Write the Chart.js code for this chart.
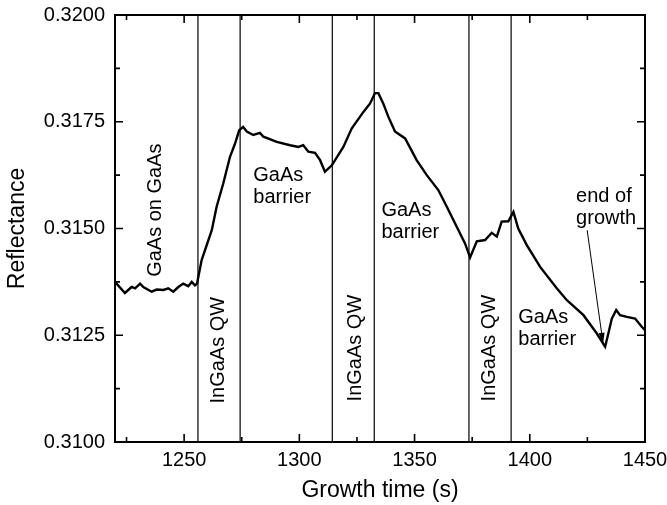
<!DOCTYPE html>
<html>
<head>
<meta charset="utf-8">
<script src="https://cdn.jsdelivr.net/npm/chart.js@4/dist/chart.umd.min.js"></script>
<style>
html,body{margin:0;padding:0;background:#fff;}
#c{display:block;}
</style>
</head>
<body>
<canvas id="c" width="667" height="505"></canvas>
<script>
// ---- data ----
const times = [1220,1224.3,1227.2,1228.7,1230.9,1232.3,1235.9,1238.1,1241.0,1243.1,1245.3,1247.5,1249.6,1251.8,1253.3,1254.7,1255.6,
  1257.6,1262.0,1264.1,1267.0,1269.9,1272.1,1273.9,1275.6,1277.2,1280.0,1282.9,1284.4,1290.2,1296.0,1299.6,1301.7,1303.9,1306.8,1309.0,1311.1,
  1314.1,1319.1,1322.7,1327.8,1330.7,1332.8,1334.3,1336.4,1338.6,1341.5,1345.9,1350.9,1355.3,1360.3,1364.0,1368.3,1371.9,1374.1,
  1377.0,1380.6,1383.5,1385.7,1387.8,1390.7,1392.9,1395.0,1398.7,1404.5,1411.7,1416.1,1423.3,1429.1,1432.7,1434.1,1435.6,1437.5,1439.2,1442.1,1445.7,1448.6,1450];
const reflectance = [0.31375,0.31349,0.31363,0.31360,0.31371,0.31363,0.31352,0.31357,0.31356,0.31360,0.31352,0.31363,0.31371,0.31365,0.31375,0.31367,0.31371,
  0.31426,0.31496,0.31551,0.31606,0.31668,0.31699,0.31730,0.31738,0.31727,0.31719,0.31724,0.31715,0.31703,0.31695,0.31691,0.31695,0.31680,0.31677,0.31660,0.31633,
  0.31648,0.31691,0.31734,0.31773,0.31793,0.31817,0.31817,0.31793,0.31762,0.31727,0.31711,0.31660,0.31625,0.31590,0.31551,0.31504,0.31465,0.31432,
  0.31470,0.31473,0.31490,0.31481,0.31516,0.31517,0.31539,0.31500,0.31461,0.31410,0.31360,0.31332,0.31297,0.31254,0.31223,0.31254,0.31289,0.31309,0.31297,0.31293,0.31289,0.31270,0.31262];
const boundaries = [1256, 1274.3, 1314.3, 1332.5, 1373.6, 1391.9];
const xTicks = [1250, 1300, 1350, 1400, 1450];
const xMinorTicks = [1225, 1275, 1325, 1375, 1425];
const yTicks = [0.3100, 0.3125, 0.3150, 0.3175, 0.3200];
const yMinorTicks = [0.31125, 0.31375, 0.31625, 0.31875];
const X_MIN = 1220, X_MAX = 1450, Y_MIN = 0.3100, Y_MAX = 0.3200;
const xTitle = 'Growth time (s)';
const yTitle = 'Reflectance';
const labelTexts = ['GaAs on GaAs', 'InGaAs QW', 'InGaAs QW', 'InGaAs QW', ['GaAs','barrier'], ['GaAs','barrier'], ['GaAs','barrier'], ['end of','growth']];
const arrowFrom = [1424.9, 0.31496];
const arrowTo = [1431.8, 0.31231];

const FONT = '"Liberation Sans", Arial, Helvetica, sans-serif';

// label anchors in data coordinates (rotated: centre; others: left / first baseline)
const labelLayout = [
  {t:1237.4, v:0.31543, rot:true},
  {t:1265.1, v:0.31215, rot:true},
  {t:1324.2, v:0.31220, rot:true},
  {t:1382.3, v:0.31220, rot:true},
  {t:1280.0, v:0.31611, rot:false},
  {t:1335.6, v:0.31529, rot:false},
  {t:1395.0, v:0.31278, rot:false},
  {t:1420.1, v:0.31561, rot:false}
];

const datasets = [{
  data: times.map((t,i)=>({x:t, y:reflectance[i]})),
  borderColor:'#000', borderWidth:2.4, pointRadius:0, tension:0, fill:false, order:0
}];
boundaries.forEach(b=>{
  datasets.push({data:[{x:b,y:Y_MIN},{x:b,y:Y_MAX}], borderColor:'#000', borderWidth:1.2, pointRadius:0, fill:false, order:1});
});

const decor = {
  id:'decor',
  afterDatasetsDraw(chart){
    const ctx = chart.ctx, xs = chart.scales.x, ys = chart.scales.y, a = chart.chartArea;
    ctx.save();
    ctx.strokeStyle = '#000';
    ctx.lineWidth = 2;
    ctx.strokeRect(a.left, a.top, a.right-a.left, a.bottom-a.top);
    ctx.lineWidth = 1.6;
    const tick = (vals, len, horiz) => {
      vals.forEach(v=>{
        ctx.beginPath();
        if (horiz){
          const p = xs.getPixelForValue(v);
          ctx.moveTo(p, a.bottom); ctx.lineTo(p, a.bottom-len);
          ctx.moveTo(p, a.top); ctx.lineTo(p, a.top+len);
        } else {
          const p = ys.getPixelForValue(v);
          ctx.moveTo(a.left, p); ctx.lineTo(a.left+len, p);
          ctx.moveTo(a.right, p); ctx.lineTo(a.right-len, p);
        }
        ctx.stroke();
      });
    };
    tick(xTicks, 8, true); tick(xMinorTicks, 5, true);
    tick(yTicks, 8, false); tick(yMinorTicks, 5, false);
    ctx.fillStyle = '#000';
    ctx.font = '20px ' + FONT;
    labelTexts.forEach((txt,i)=>{
      const L = labelLayout[i];
      const px = xs.getPixelForValue(L.t), py = ys.getPixelForValue(L.v);
      if (L.rot){
        ctx.save();
        ctx.translate(px, py);
        ctx.rotate(-Math.PI/2);
        ctx.textAlign='center'; ctx.textBaseline='middle';
        ctx.fillText(txt, 0, 0);
        ctx.restore();
      } else {
        ctx.textAlign='left'; ctx.textBaseline='alphabetic';
        const lines = Array.isArray(txt)?txt:[txt];
        lines.forEach((ln,j)=>ctx.fillText(ln, px, py + j*21.5));
      }
    });
    const x0 = xs.getPixelForValue(arrowFrom[0]), y0 = ys.getPixelForValue(arrowFrom[1]);
    const x1 = xs.getPixelForValue(arrowTo[0]), y1 = ys.getPixelForValue(arrowTo[1]);
    ctx.lineWidth = 1;
    ctx.beginPath(); ctx.moveTo(x0,y0); ctx.lineTo(x1,y1); ctx.stroke();
    const ang = Math.atan2(y1-y0, x1-x0), hl = 11, hw = 0.28;
    ctx.beginPath();
    ctx.moveTo(x1,y1);
    ctx.lineTo(x1-hl*Math.cos(ang-hw), y1-hl*Math.sin(ang-hw));
    ctx.lineTo(x1-hl*Math.cos(ang+hw), y1-hl*Math.sin(ang+hw));
    ctx.closePath(); ctx.fill();
    ctx.restore();
  }
};

new Chart(document.getElementById('c'), {
  type:'line',
  data:{datasets},
  plugins:[decor],
  options:{
    responsive:false, animation:false, devicePixelRatio:1,
    layout:{padding:{left:0, right:22, top:15, bottom:0}},
    plugins:{legend:{display:false}, tooltip:{enabled:false}},
    scales:{
      x:{type:'linear', min:X_MIN, max:X_MAX,
        grid:{display:false, drawTicks:false}, border:{display:false},
        ticks:{color:'#000', font:{size:20, family:FONT}, padding:6, maxRotation:0, autoSkip:false, callback:v=>String(v)},
        afterBuildTicks:s=>{s.ticks = xTicks.map(v=>({value:v}));},
        afterFit:s=>{s.height = 63; s.paddingLeft = 0; s.paddingRight = 0;},
        title:{display:true, text:xTitle, color:'#000', font:{size:23, family:FONT, lineHeight:1.2}, padding:{top:0,bottom:1}}
      },
      y:{type:'linear', min:Y_MIN, max:Y_MAX,
        grid:{display:false, drawTicks:false}, border:{display:false},
        ticks:{color:'#000', font:{size:20, family:FONT}, padding:10, callback:v=>Number(v).toFixed(4)},
        afterBuildTicks:s=>{s.ticks = yTicks.map(v=>({value:v}));},
        afterFit:s=>{s.width = 115; s.paddingTop = 0; s.paddingBottom = 0;},
        title:{display:true, text:yTitle, color:'#000', font:{size:23, family:FONT, lineHeight:1.2}, padding:{top:4,bottom:0}}
      }
    }
  }
});
</script>
</body>
</html>
